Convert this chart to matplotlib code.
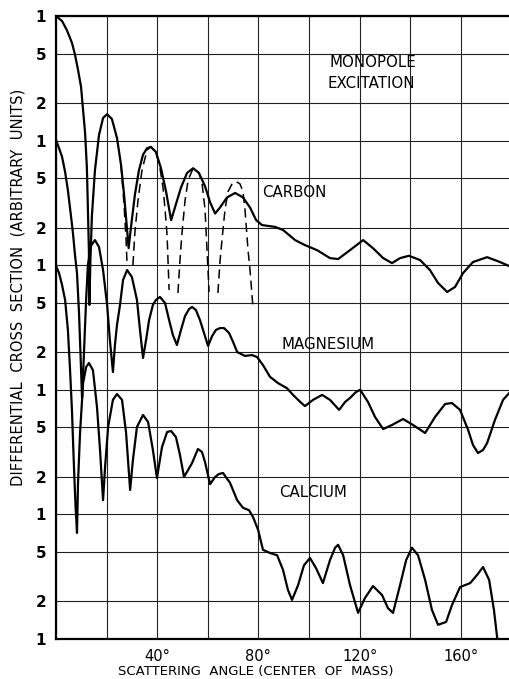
import numpy as np
import matplotlib
matplotlib.use('Agg')
import matplotlib.pyplot as plt
from matplotlib.ticker import NullLocator

# angles in degrees (centre of mass), cross sections in arbitrary units
carbon_deg = [0, 2.4, 4.3, 6.3, 7.5, 8.7, 9.9, 10.7, 11.5, 12.2,
              12.6, 13.0, 13.2, 13.6, 14.2, 15.4, 17.0, 18.6, 20.2, 22.1,
              24.1, 25.7, 26.9, 28.1, 28.7, 29.6, 31.2, 32.8, 34.4, 36.0,
              37.5, 39.5, 41.5, 43.5, 45.5, 47.0, 49.4, 51.8, 54.2, 56.5,
              58.9, 60.9, 62.9, 64.8, 67.6, 70.8, 73.9, 76.7, 79.1, 81.4,
              86.6, 89.7, 94.5, 98.4, 103.2, 108.3, 111.5, 116.2, 121.4, 125.3,
              129.3, 132.8, 136.0, 139.5, 143.9, 147.8, 151.0, 154.6, 157.7, 160.9,
              164.8, 170.4, 175.5, 179.1]
carbon_val = [1.0e5, 9.1e4, 7.7e4, 6.1e4, 4.9e4, 3.7e4, 2.7e4, 1.76e4, 1.15e4, 6.1e3,
              2.9e3, 1.32e3, 480, 1.1e3, 2.5e3, 5.8e3, 1.11e4, 1.52e4, 1.63e4, 1.49e4,
              1.05e4, 6.4e3, 3.7e3, 1.92e3, 1.37e3, 1.99e3, 3.7e3, 5.8e3, 7.7e3, 8.7e3,
              8.9e3, 8.1e3, 6.0e3, 3.9e3, 2.3e3, 2.9e3, 4.2e3, 5.5e3, 6.0e3, 5.5e3,
              4.3e3, 3.2e3, 2.6e3, 2.9e3, 3.5e3, 3.8e3, 3.5e3, 2.9e3, 2.3e3, 2.1e3,
              2.03e3, 1.92e3, 1.59e3, 1.45e3, 1.32e3, 1.14e3, 1.12e3, 1.32e3, 1.59e3, 1.37e3,
              1.14e3, 1.04e3, 1.14e3, 1.19e3, 1.1e3, 915, 720, 610, 668, 865,
              1.06e3, 1.16e3, 1.06e3, 985]

# dashed alternative for carbon, one list pair per lobe
dash1_deg = [25.7, 26.9, 27.7, 28.1]
dash1_val = [6.4e3, 3.04e3, 1.59e3, 1.0e3]
dash2_deg = [30.4, 31.2, 32.4, 34.0, 36.0, 37.5, 39.5, 41.1, 42.3, 43.1, 43.9, 44.7]
dash2_val = [1.0e3, 1.85e3, 3.3e3, 5.8e3, 8.4e3, 8.9e3, 8.1e3, 6.0e3, 4.2e3, 2.8e3, 1.75e3, 632]
dash3_deg = [48.2, 49.0, 49.8, 51.0, 52.2, 54.2, 56.5, 57.7, 58.9, 59.7, 60.5]
dash3_val = [598, 1.1e3, 1.81e3, 3.3e3, 4.8e3, 6.0e3, 5.5e3, 4.6e3, 2.8e3, 1.32e3, 610]
dash4_deg = [64.0, 64.8, 65.6, 66.8, 68.0, 69.6, 71.1, 72.7, 73.9, 74.7, 75.9, 76.7, 77.9]
dash4_val = [598, 1.06e3, 1.59e3, 2.8e3, 3.9e3, 4.5e3, 4.7e3, 4.5e3, 3.9e3, 2.8e3, 1.32e3, 915, 445]

mg_deg = [0, 1.2, 2.4, 3.6, 4.7, 5.9, 6.7, 7.5, 8.3, 9.1,
          9.7, 10.3, 10.7, 11.1, 11.9, 12.6, 13.8, 15.4, 17.0, 18.6,
          20.2, 21.3, 22.5, 23.3, 24.1, 25.3, 26.5, 28.1, 30.0, 32.0,
          33.2, 34.4, 35.6, 36.8, 38.3, 39.5, 41.1, 43.1, 44.7, 46.2,
          47.8, 49.4, 51.0, 52.6, 53.8, 55.3, 56.9, 58.5, 60.1, 61.7,
          63.2, 64.8, 66.4, 68.4, 70.0, 71.6, 74.7, 77.5, 79.5, 81.8,
          84.6, 87.8, 91.3, 93.7, 96.5, 98.4, 101.6, 105.2, 108.3, 111.9,
          114.3, 116.2, 118.6, 120.2, 123.3, 126.1, 129.3, 132.8, 137.2, 141.1,
          145.9, 149.8, 153.8, 156.5, 159.7, 162.9, 164.8, 166.8, 168.8, 170.4,
          173.5, 176.7, 179.1]
mg_val = [1.01e4, 8.7e3, 7.4e3, 5.6e3, 4.0e3, 2.5e3, 1.81e3, 1.21e3, 865, 413,
          190, 86, 131, 209, 526, 1.0e3, 1.43e3, 1.59e3, 1.40e3, 915,
          480, 251, 139, 229, 331, 480, 761, 915, 804, 526,
          302, 180, 251, 363, 480, 526, 556, 497, 363, 275,
          229, 302, 391, 445, 462, 437, 363, 286, 225, 270,
          302, 313, 313, 286, 242, 201, 187, 190, 183, 158,
          127, 113, 103, 91, 80, 74, 83, 91, 83, 69,
          80, 86, 96, 100, 80, 60.5, 48.4, 52.2, 58.3, 52.2,
          45.0, 60.5, 76.9, 78.3, 69, 47.6, 36.1, 31.1, 32.9, 37.4,
          57.3, 83, 94]

ca_deg = [0, 1.2, 2.4, 3.6, 4.7, 5.5, 6.3, 7.1, 7.7, 8.3,
          8.7, 9.5, 10.7, 11.9, 13.0, 14.6, 16.2, 17.4, 18.6, 19.4,
          20.6, 22.5, 24.1, 26.1, 27.7, 29.3, 30.4, 32.0, 34.4, 36.4,
          38.3, 39.9, 41.9, 43.9, 45.5, 47.4, 49.0, 50.6, 52.2, 53.8,
          56.1, 57.7, 58.9, 60.9, 62.9, 64.4, 66.0, 68.8, 71.6, 73.9,
          76.3, 77.9, 79.9, 81.8, 84.6, 87.4, 89.7, 91.7, 93.3, 95.7,
          98.0, 100.4, 102.8, 105.5, 108.3, 110.3, 111.5, 113.5, 116.2, 119.4,
          122.1, 125.3, 128.9, 131.2, 133.2, 136.0, 138.4, 140.7, 143.1, 145.9,
          148.6, 151.0, 154.2, 156.5, 159.7, 163.7, 166.4, 168.8, 171.2, 173.1,
          174.7]
ca_val = [986, 865, 693, 526, 302, 152, 69, 24.0, 11.9, 7.1,
          17.9, 45.0, 113, 152, 164, 144, 72.8, 32.9, 13.0, 24.0,
          50.3, 83, 92.5, 83, 45.0, 15.7, 27.3, 50.3, 62.8, 55.2,
          32.9, 19.6, 34.7, 45.8, 46.7, 41.8, 30.0, 20.0, 22.7, 25.9,
          33.5, 31.7, 26.3, 17.5, 20.0, 21.1, 21.5, 17.9, 13.0, 11.3,
          10.8, 9.5, 7.5, 5.2, 4.9, 4.7, 3.6, 2.47, 2.06, 2.71,
          3.9, 4.47, 3.7, 2.81, 4.3, 5.4, 5.7, 4.7, 2.71, 1.62,
          2.13, 2.66, 2.25, 1.77, 1.62, 2.71, 4.3, 5.4, 4.7, 2.98,
          1.71, 1.30, 1.37, 1.87, 2.61, 2.81, 3.26, 3.78, 2.98, 1.71,
          0.9]

x_grid = [0, 20, 40, 60, 80, 100, 120, 140, 160, 180]
x_labels = ['', '', '40°', '', '80°', '', '120°', '', '160°', '']
decades = [1, 10, 100, 1000, 10000]
mantissas = [1, 2, 5]

W, H = 509, 679
fig = plt.figure(figsize=(W / 100, H / 100), dpi=100)
ax = fig.add_axes([56 / W, 40 / H, 455.4 / W, 623 / H])

ax.plot(carbon_deg, carbon_val, color='black', lw=1.6, solid_joinstyle='round')
ax.plot(mg_deg, mg_val, color='black', lw=1.6, solid_joinstyle='round')
ax.plot(ca_deg, ca_val, color='black', lw=1.6, solid_joinstyle='round')
for dd, dv in [(dash1_deg, dash1_val), (dash2_deg, dash2_val),
               (dash3_deg, dash3_val), (dash4_deg, dash4_val)]:
    ax.plot(dd, dv, color='black', lw=1.1, dashes=(6, 3.5))

ax.set_yscale('log')
ax.set_xlim(0, 180)
ax.set_ylim(1, 1e5)

yticks = [m * d for d in decades for m in mantissas] + [1e5]
ylabels = [str(m) for d in decades for m in mantissas] + ['1']
ax.set_yticks(yticks)
ax.set_yticklabels(ylabels, fontsize=11, fontweight='bold')
ax.yaxis.set_minor_locator(NullLocator())
ax.set_xticks(x_grid)
ax.set_xticklabels(x_labels, fontsize=10.5)
ax.tick_params(axis='both', length=0)
ax.tick_params(axis='y', pad=7)
ax.tick_params(axis='x', pad=7)

ax.grid(True, color='#222222', lw=0.8)
for side in ['left', 'top', 'bottom']:
    ax.spines[side].set_linewidth(1.6)
ax.spines['right'].set_visible(False)

ax.text(108, 4.2e4, 'MONOPOLE', fontsize=10.8, va='center', ha='left')
ax.text(107.5, 2.85e4, 'EXCITATION', fontsize=10.8, va='center', ha='left')
ax.text(81.6, 3.8e3, 'CARBON', fontsize=10.8, va='center', ha='left')
ax.text(89.3, 229, 'MAGNESIUM', fontsize=10.8, va='center', ha='left')
ax.text(88.2, 14.9, 'CALCIUM', fontsize=10.8, va='center', ha='left')

fig.text(18 / W, 1 - 287 / H, 'DIFFERENTIAL  CROSS  SECTION  (ARBITRARY  UNITS)',
         rotation=90, ha='center', va='center', fontsize=10.6)
fig.text(256 / W, 1 - 672 / H, 'SCATTERING  ANGLE (CENTER  OF  MASS)',
         ha='center', va='center', fontsize=9.5)

fig.savefig('out.png', dpi=100, facecolor='white')
